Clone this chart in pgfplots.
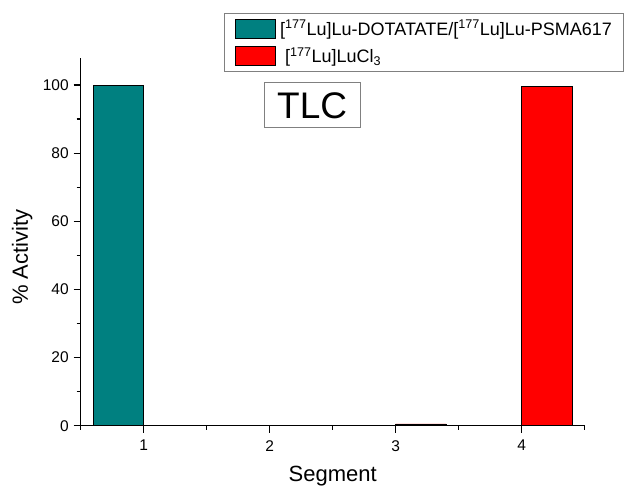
\documentclass[border=0pt]{standalone}
\usepackage{fontspec}
\setmainfont{Liberation Sans}
\usepackage{pgfplots}
\pgfplotsset{compat=1.18}
\definecolor{tealbar}{RGB}{0,128,128}
\definecolor{redbar}{RGB}{255,0,0}

\begin{document}
\begin{tikzpicture}
\begin{axis}[
  scale only axis, width=504pt, height=368pt,
  xmin=0.5, xmax=4.5, ymin=0, ymax=108,
  axis lines*=left, axis line style={line width=1.2pt},
  xtick={1,2,3,4}, minor xtick={0.5,1.5,2.5,3.5,4.5},
  ytick={0,20,40,60,80,100}, minor ytick={10,30,50,70,90},
  tick align=outside, major tick length=7pt, minor tick length=4pt,
  tick style={line width=1.1pt, black},
  ticklabel style={font=\fontsize{15.5}{17}\selectfont},
  xticklabel style={yshift=-4pt},
  yticklabel style={xshift=-1.5pt},
  /pgf/number format/assume math mode=true,
  xlabel={Segment}, ylabel={\% Activity},
  label style={font=\fontsize{22}{24}\selectfont},
  xlabel style={at={(axis description cs:0.5,-0.152)}, anchor=base},
  ylabel style={at={(axis description cs:-0.1046,0.4584)}, anchor=base, rotate=0},
  ybar, bar width=0.4,
  legend image code/.code={\draw[#1] (0pt,-9.5pt) rectangle (40pt,9.5pt);},
  legend style={at={(axis description cs:0.2843,1.1223)}, anchor=north west,
    draw=gray, line width=0.9pt, font=\fontsize{18}{20}\selectfont,
    nodes={inner sep=0pt},
    inner xsep=11pt, inner ysep=5.5pt, row sep=8pt,
    /tikz/every odd column/.append style={column sep=4pt}},
  legend cell align=left,
]
\addplot[fill=tealbar, draw=black, line width=0.7pt, bar shift=-0.2]
  coordinates {(1,99.8) (2,0.2) (3,0) (4,0)};
\addlegendentry{[\textsuperscript{177}Lu]Lu-DOTATATE/[\textsuperscript{177}Lu]Lu-PSMA617}
\addplot[fill=redbar, draw=black, line width=0.7pt, bar shift=0.2]
  coordinates {(1,0) (2,0) (3,0.5) (4,99.5)};
\addlegendentry{\hspace{5pt}[\textsuperscript{177}Lu]LuCl\textsubscript{3}}
\node[draw=gray, line width=0.8pt, font=\fontsize{37}{40}\selectfont,
  inner xsep=13pt, inner ysep=9pt, text height=27pt, text depth=0pt]
  at (axis cs:2.337,94.0) {TLC};
\end{axis}
\pgfresetboundingbox
\path (current axis.origin) ++(-80.7pt,-60.3pt) rectangle ++(626pt,486pt);
\end{tikzpicture}
\end{document}
